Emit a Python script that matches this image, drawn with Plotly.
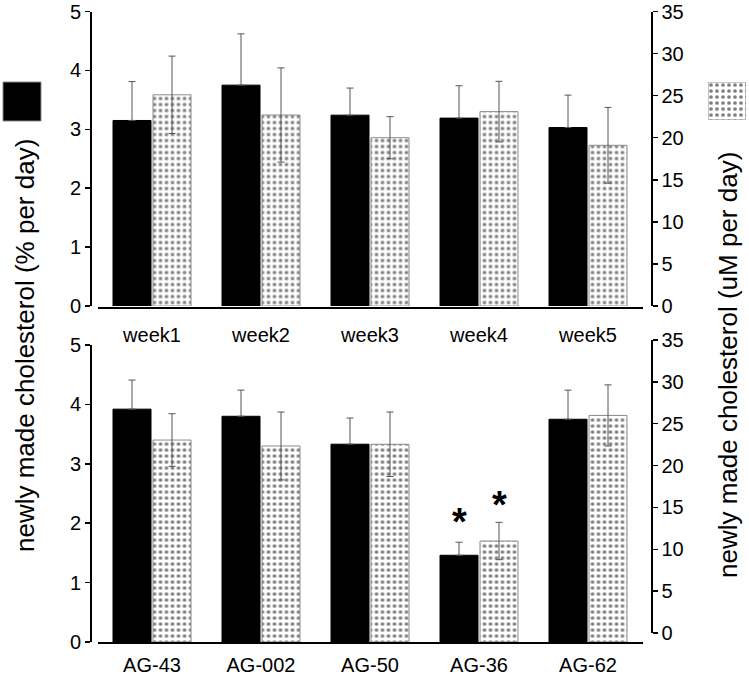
import plotly.graph_objects as go

# ---------------- data ----------------
weeks = ["week1", "week2", "week3", "week4", "week5"]
week_pct = [3.15, 3.75, 3.24, 3.19, 3.03]          # newly made cholesterol (% per day)
week_pct_err = [0.66, 0.87, 0.46, 0.55, 0.55]
week_um = [25.1, 22.7, 20.0, 23.1, 19.1]           # newly made cholesterol (uM per day)
week_um_err = [4.6, 5.6, 2.5, 3.6, 4.5]

compounds = ["AG-43", "AG-002", "AG-50", "AG-36", "AG-62"]
comp_pct = [3.92, 3.80, 3.33, 1.46, 3.75]
comp_pct_err = [0.49, 0.44, 0.44, 0.22, 0.49]
comp_um = [23.8, 23.1, 23.3, 11.9, 26.7]
comp_um_err = [3.1, 4.0, 3.8, 2.2, 3.6]
significant = ["AG-36"]

left_title = "newly made cholesterol (% per day)"
right_title = "newly made cholesterol (uM per day)"

# ---------------- geometry helpers ----------------
W, H = 749, 677
FONT = "Liberation Sans, Arial, sans-serif"


def fx(px):
    return px / W


def fy(py):
    return 1 - py / H


XDOM = [fx(97.5), fx(642.5)]
BARGAP = 0.266

black_marker = dict(color="black", line=dict(color="black", width=1))
dot_marker = dict(
    color="white",
    line=dict(color="#8a8a8a", width=1),
    pattern=dict(shape=".", fgcolor="black", bgcolor="white", size=6, solidity=0.3),
)
err_style = dict(type="data", visible=True, color="#555555", thickness=1, width=3.5)

fig = go.Figure()

# top panel (black whiskers: lower half hidden by the bar in the original)
fig.add_trace(go.Bar(x=weeks, y=week_pct, marker=black_marker, xaxis="x", yaxis="y",
                     error_y=dict(array=week_pct_err, symmetric=False,
                                  arrayminus=[0] * len(weeks), **err_style),
                     offsetgroup="a"))
fig.add_trace(go.Bar(x=weeks, y=week_um, marker=dot_marker, xaxis="x", yaxis="y2",
                     error_y=dict(array=week_um_err, **err_style), offsetgroup="b"))
# bottom panel
fig.add_trace(go.Bar(x=compounds, y=comp_pct, marker=black_marker, xaxis="x2", yaxis="y3",
                     error_y=dict(array=comp_pct_err, symmetric=False,
                                  arrayminus=[0] * len(compounds), **err_style),
                     offsetgroup="a"))
fig.add_trace(go.Bar(x=compounds, y=comp_um, marker=dot_marker, xaxis="x2", yaxis="y4",
                     error_y=dict(array=comp_um_err, **err_style), offsetgroup="b"))
# invisible trace so the visible right axis of the lower panel is drawn
fig.add_trace(go.Scatter(x=[compounds[0]], y=[None], xaxis="x2", yaxis="y5",
                         mode="markers", marker=dict(opacity=0), hoverinfo="skip"))
# dotted legend swatch (right side)
fig.add_trace(go.Bar(x=[0], y=[1], width=[1], marker=dot_marker, xaxis="x3", yaxis="y6",
                     hoverinfo="skip"))

tickfont = dict(family=FONT, size=20, color="black")
yax_common = dict(showline=True, linecolor="black", linewidth=1.5, ticks="outside",
                  ticklen=5, tickwidth=1.5, tickcolor="black", showgrid=False,
                  zeroline=False, tickfont=tickfont, fixedrange=True, automargin=False)
xax_common = dict(type="category", range=[-0.5, 4.5], showline=True, linecolor="black",
                  linewidth=2, ticks="", showgrid=False, zeroline=False,
                  tickfont=tickfont, domain=XDOM, anchor="free", automargin=False,
                  fixedrange=True)

fig.update_layout(
    width=W, height=H, autosize=False,
    margin=dict(l=0, r=0, t=0, b=0, pad=0),
    paper_bgcolor="white", plot_bgcolor="rgba(0,0,0,0)",
    showlegend=False,
    barmode="group", bargap=BARGAP, bargroupgap=0.05,
    font=dict(family=FONT, color="black"),
    xaxis=dict(position=fy(308), ticklabelstandoff=9, **xax_common),
    xaxis2=dict(position=fy(643), ticklabelstandoff=4, **xax_common),
    yaxis=dict(domain=[fy(306), fy(11.5)], anchor="free", position=fx(90),
               range=[0, 5], dtick=1, **yax_common),
    yaxis2=dict(overlaying="y", side="right", anchor="free", position=fx(651),
                range=[0, 35], dtick=5, **yax_common),
    yaxis3=dict(domain=[fy(642), fy(345)], anchor="free", position=fx(90),
                range=[0, 5], dtick=1, **yax_common),
    yaxis4=dict(overlaying="y3", range=[0, 35], visible=False, fixedrange=True,
                automargin=False),
    yaxis5=dict(domain=[fy(633), fy(340)], side="right", anchor="free", position=fx(651),
                range=[0, 35], dtick=5, **yax_common),
    xaxis3=dict(domain=[fx(708), fx(746)], range=[-0.5, 0.5], visible=False, anchor="y6",
                fixedrange=True, automargin=False),
    yaxis6=dict(domain=[fy(120), fy(82)], range=[0, 1], visible=False, anchor="x3",
                fixedrange=True, automargin=False),
)

# black legend swatch (left side)
fig.add_shape(type="rect", xref="paper", yref="paper",
              x0=fx(3), x1=fx(41), y0=fy(121), y1=fy(82),
              fillcolor="black", line=dict(color="#8a8a8a", width=1))

# axis titles
fig.add_annotation(text=left_title, xref="paper", yref="paper", x=fx(25), y=fy(346),
                   textangle=-90, showarrow=False, xanchor="center", yanchor="middle",
                   font=dict(family=FONT, size=26, color="black"))
fig.add_annotation(text=right_title, xref="paper", yref="paper", x=fx(728), y=fy(365),
                   textangle=-90, showarrow=False, xanchor="center", yanchor="middle",
                   font=dict(family=FONT, size=26, color="black"))

# significance asterisks
off = (1 - BARGAP) / 4
for i, c in enumerate(compounds):
    if c in significant:
        fig.add_annotation(text="<b>*</b>", xref="x2", yref="y3", x=i - off,
                           y=comp_pct[i] + comp_pct_err[i], showarrow=False,
                           yanchor="middle", yshift=20,
                           font=dict(family=FONT, size=38, color="black"))
        fig.add_annotation(text="<b>*</b>", xref="x2", yref="y4", x=i + off,
                           y=comp_um[i] + comp_um_err[i], showarrow=False,
                           yanchor="middle", yshift=17,
                           font=dict(family=FONT, size=38, color="black"))

fig.write_html("out.html",
               config={"displayModeBar": False, "staticPlot": True},
               post_script="document.body.style.margin='0';"
                           "document.body.style.padding='0';"
                           "document.body.style.overflow='hidden';")
